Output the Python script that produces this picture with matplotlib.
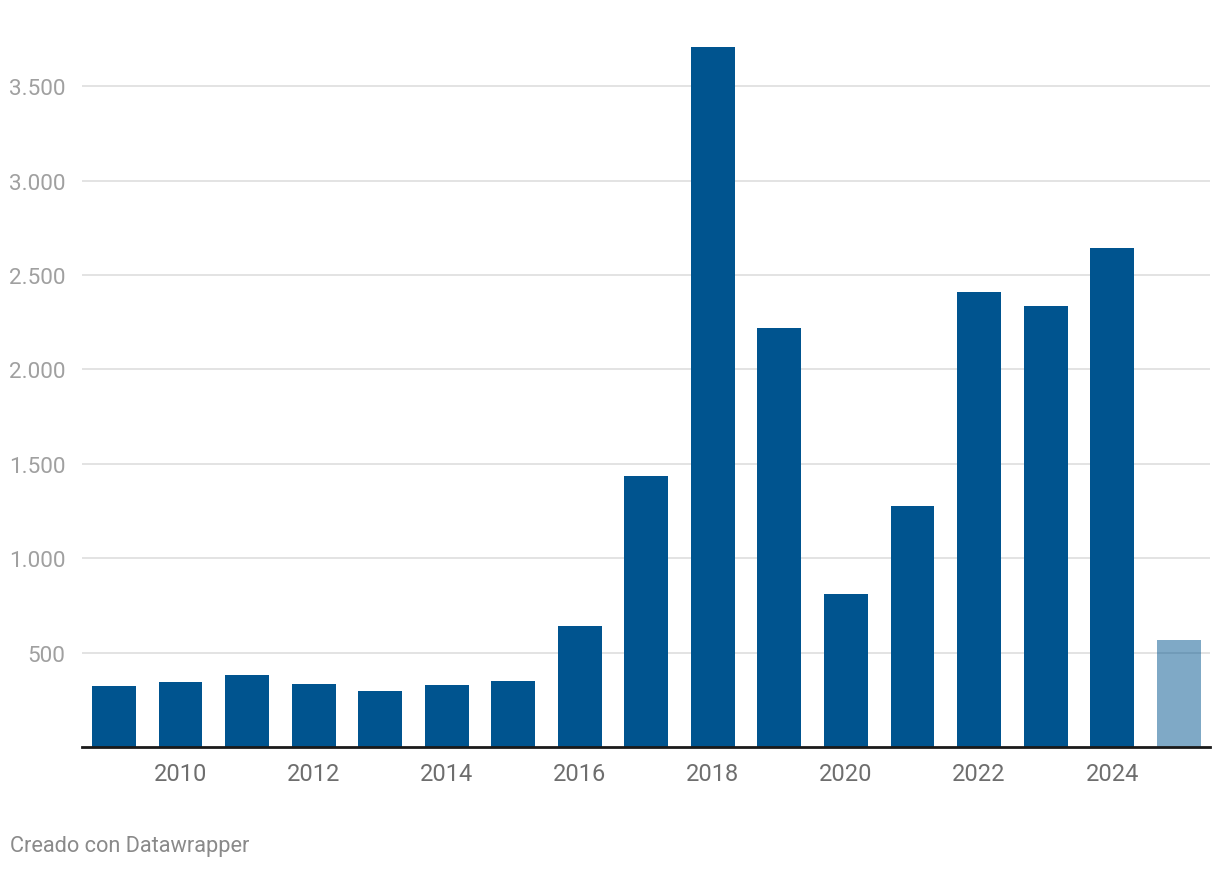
import matplotlib.pyplot as plt
from matplotlib.ticker import FuncFormatter

plt.rcParams['font.family'] = ['Roboto', 'DejaVu Sans']

# Data
years = list(range(2009, 2026))
values = [323, 344, 381, 334, 297, 328, 349, 641, 1435, 3706,
          2219, 810, 1276, 2409, 2335, 2642, 567]
partial_year = 2025  # last bar drawn lighter (incomplete year)

y_ticks = [500, 1000, 1500, 2000, 2500, 3000, 3500]
x_ticks = [2010, 2012, 2014, 2016, 2018, 2020, 2022, 2024]

fig = plt.figure(figsize=(12.2, 8.7), dpi=100)
ax = fig.add_axes([82 / 1220, 1 - 748 / 870, (1210 - 82) / 1220, (748 - 40) / 870])

bar_color = '#00548f'
for yr, v in zip(years, values):
    if yr == partial_year:
        ax.bar(yr, v, width=0.66, color=bar_color, alpha=0.5, zorder=3)
    else:
        ax.bar(yr, v, width=0.66, color=bar_color, zorder=3)

ax.set_ylim(0, 3750)
ax.set_xlim(2008.52, 2025.47)

ax.set_yticks(y_ticks)
ax.yaxis.set_major_formatter(FuncFormatter(lambda v, p: f'{int(v):,}'.replace(',', '.')))
ax.set_xticks(x_ticks)

ax.grid(axis='y', color='#e3e3e3', linewidth=1.4, zorder=1)
ax.tick_params(axis='y', length=0, pad=12, labelsize=16.2, labelcolor='#a0a0a0')
ax.tick_params(axis='x', length=0, pad=11, labelsize=17, labelcolor='#6e6e6e')

for s in ['top', 'right', 'left']:
    ax.spines[s].set_visible(False)
ax.spines['bottom'].set_color('#1a1a1a')
ax.spines['bottom'].set_linewidth(2)
ax.spines['bottom'].set_zorder(4)

fig.text(10 / 1220, 1 - 847 / 870, 'Creado con Datawrapper', fontsize=15.7,
         color='#8a8a8a', va='center', ha='left')

plt.savefig('out.png', dpi=100)
plt.close()
